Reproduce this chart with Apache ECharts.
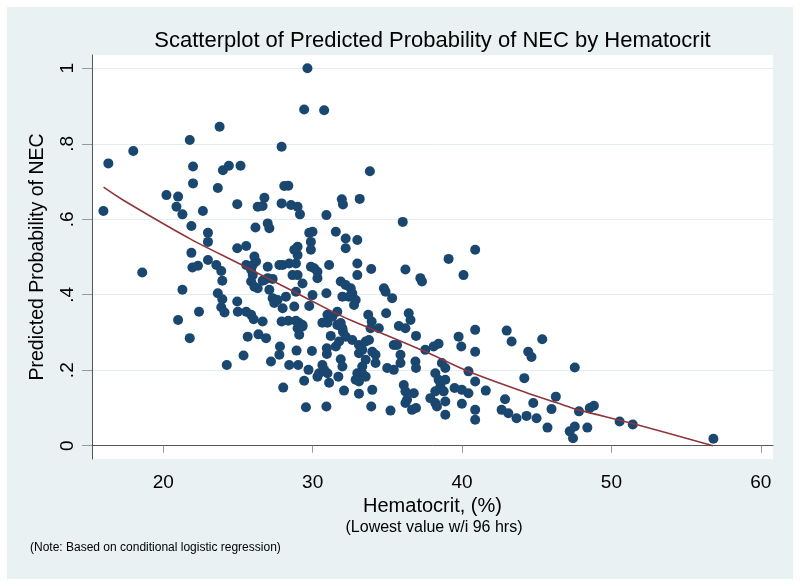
<!DOCTYPE html>
<html><head><meta charset="utf-8">
<script src="https://cdn.jsdelivr.net/npm/echarts@6/dist/echarts.min.js"></script>
<style>html,body{margin:0;padding:0;background:#fff}#c{width:800px;height:586px}</style>
</head><body><div id="c"></div>
<script>
// Observed points: [Hematocrit (%), Predicted probability of NEC]
const points = [
[15.99,0.622],[16.32,0.748],[17.99,0.781],[21.77,0.810],[21.99,0.740],[21.99,0.695],[20.21,0.664],[20.99,0.660],
[20.88,0.633],[21.28,0.613],[22.65,0.622],[21.88,0.582],[22.99,0.564],[23.77,0.845],[23.65,0.683],[23.99,0.730],
[24.39,0.742],[25.17,0.742],[24.95,0.640],[26.17,0.578],[26.99,0.589],[27.10,0.576],[26.32,0.633],[26.65,0.635],
[26.77,0.657],[27.92,0.792],[28.10,0.688],[28.37,0.689],[27.92,0.642],[28.55,0.638],[28.99,0.633],[29.15,0.613],
[29.65,1.000],[29.43,0.891],[30.77,0.889],[30.92,0.611],[29.77,0.564],[29.99,0.567],[31.55,0.567],[31.95,0.653],
[32.03,0.639],[32.21,0.549],
[33.83,0.727],[33.15,0.654],[36.03,0.593],[32.99,0.545],
[22.99,0.540],[21.88,0.511],[21.95,0.472],[22.32,0.477],[22.99,0.492],[23.55,0.479],[23.88,0.463],[23.95,0.437],
[18.59,0.459],[21.28,0.413],[20.99,0.333],[22.39,0.355],[21.77,0.285],[23.65,0.404],[23.95,0.388],[23.88,0.367],
[24.10,0.353],[24.25,0.214],[24.95,0.523],[25.55,0.529],[24.95,0.382],[24.99,0.355],[25.55,0.355],[25.88,0.347],
[26.05,0.335],[26.65,0.329],[25.65,0.289],[26.37,0.295],[26.88,0.285],[25.37,0.239],[27.21,0.223],[27.81,0.263],
[27.77,0.241],[28.03,0.154],[28.43,0.214],[29.03,0.214],[28.92,0.252],[29.43,0.172],[29.55,0.102],[30.92,0.104],
[29.95,0.251],[29.72,0.201],[30.32,0.183],[30.43,0.192],[30.77,0.201],[30.99,0.192],[31.10,0.167],[30.65,0.214],
[31.72,0.183],[32.10,0.146],[31.88,0.229],[31.99,0.210],[31.21,0.291],[31.55,0.263],[31.77,0.276],[30.95,0.258],
[30.95,0.243],[32.03,0.302],[32.21,0.289],[30.65,0.326],[30.99,0.326],[30.99,0.347],[31.32,0.342],[31.65,0.355],
[31.65,0.320],[31.88,0.325],[31.99,0.311],[30.92,0.404],[29.99,0.399],[29.77,0.370],[28.77,0.369],[27.92,0.329],
[28.37,0.331],[28.88,0.331],[29.10,0.325],[29.32,0.320],[28.99,0.311],[29.10,0.294],[29.32,0.316],[27.10,0.413],
[27.32,0.391],[27.43,0.378],[27.65,0.386],[27.99,0.364],[28.21,0.395],[28.88,0.408],[29.32,0.430],[26.65,0.437],
[26.77,0.439],[26.99,0.444],[27.32,0.442],[25.88,0.435],[26.10,0.421],[26.32,0.417],[25.99,0.452],[25.88,0.466],
[25.55,0.479],[25.99,0.479],[26.10,0.501],[26.21,0.488],[26.99,0.474],[27.77,0.479],[27.99,0.479],[28.43,0.483],
[28.88,0.483],[28.99,0.505],[28.99,0.527],[28.77,0.519],[28.65,0.452],[28.99,0.452],[29.88,0.540],[29.88,0.519],
[32.21,0.523],[29.88,0.474],[30.10,0.470],[30.32,0.461],[30.32,0.444],[31.10,0.479],[31.88,0.435],[32.21,0.426],
[31.99,0.395],
[32.99,0.483],[32.99,0.452],[33.92,0.468],[32.55,0.417],[32.65,0.404],[32.88,0.386],[32.77,0.373],[32.43,0.395],
[34.77,0.417],[34.88,0.408],[35.32,0.391],[36.21,0.467],[37.21,0.444],[37.32,0.435],[39.10,0.495],[40.10,0.452],
[40.88,0.519],[34.92,0.351],[33.72,0.347],[33.95,0.329],[33.88,0.311],[34.43,0.311],[32.65,0.280],[33.10,0.267],
[33.32,0.254],[33.55,0.276],[33.77,0.280],[33.10,0.245],[33.99,0.249],[34.21,0.241],[33.55,0.228],[34.21,0.219],
[33.32,0.210],[32.99,0.192],[33.32,0.192],[33.10,0.170],[33.55,0.183],[32.88,0.175],[33.10,0.138],[33.99,0.148],
[33.92,0.104],[35.21,0.093],[35.43,0.267],[35.65,0.267],[35.77,0.317],[36.21,0.311],[36.43,0.351],[36.55,0.333],
[35.88,0.241],[35.88,0.219],[34.99,0.206],[35.43,0.201],[36.92,0.291],[36.88,0.223],[36.92,0.206],[36.10,0.161],
[36.21,0.144],[36.77,0.139],[36.32,0.122],[36.21,0.113],[36.65,0.095],[36.92,0.100],[37.54,0.254],[38.10,0.263],
[38.43,0.270],[38.65,0.219],[38.88,0.206],[38.21,0.192],[38.43,0.175],[38.88,0.175],[38.55,0.157],[38.77,0.144],
[38.21,0.144],[37.88,0.126],[38.21,0.113],[38.88,0.117],[38.32,0.104],[38.88,0.082],[39.77,0.289],[39.95,0.263],
[39.50,0.153],[39.99,0.148],[40.43,0.139],[39.99,0.111],[40.43,0.197],[40.88,0.307],[40.88,0.249],[40.88,0.170],
[40.88,0.095],[40.88,0.069],[41.59,0.146],[42.88,0.123],[42.99,0.305],[43.32,0.276],[42.65,0.095],[43.10,0.086],
[43.65,0.073],[44.32,0.079],[44.99,0.073],[44.17,0.179],[44.43,0.249],[44.65,0.235],[44.77,0.113],[45.37,0.282],
[45.99,0.097],[46.28,0.130],[45.72,0.048],[47.55,0.207],[47.21,0.038],[47.43,0.020],[47.55,0.051],
[47.83,0.091],[48.55,0.100],[48.83,0.106],[48.39,0.048],[50.55,0.064],[51.43,0.056],[56.83,0.0185]
];
// Fitted curve
const fitHematocrit   = [16.0, 17.3, 21.8, 25.1, 28.4, 31.1, 32.4, 37.5, 40.4, 44.4, 46.4, 47.8, 51.3, 56.8];
const fitProbability  = [0.685,0.651,0.548,0.482,0.415,0.360,0.335,0.250,0.197,0.139,0.113,0.095,0.060,0.000];
const xTicks = [20, 30, 40, 50, 60];
const yTicks = [0, 0.2, 0.4, 0.6, 0.8, 1];
const yTickLabels = ['0', '.2', '.4', '.6', '.8', '1'];

const FONT = "'Liberation Sans', Arial, Helvetica, sans-serif";
const chart = echarts.init(document.getElementById('c'), null, {renderer: 'canvas'});
chart.setOption({
  animation: false,
  backgroundColor: '#ffffff',
  textStyle: {fontFamily: FONT},
  graphic: [
    {type: 'rect', z: -100, silent: true, shape: {x: 7, y: 7, width: 786, height: 572}, style: {fill: '#e9f1f3'}},
    {type: 'text', z: 10, silent: true, style: {text: 'Scatterplot of Predicted Probability of NEC by Hematocrit', x: 432.5, y: 41, textAlign: 'center', textVerticalAlign: 'middle', font: "22px " + FONT, fill: '#000'}},
    {type: 'text', z: 10, silent: true, style: {text: '(Lowest value w/i 96 hrs)', x: 434, y: 527.5, textAlign: 'center', textVerticalAlign: 'middle', font: "16px " + FONT, fill: '#000'}},
    {type: 'text', z: 10, silent: true, style: {text: '(Note: Based on conditional logistic regression)', x: 30, y: 548, textAlign: 'left', textVerticalAlign: 'middle', font: "12px " + FONT, fill: '#000'}}
  ],
  grid: {left: 92, top: 55, right: 27, bottom: 127, show: true, backgroundColor: '#ffffff', borderWidth: 0, containLabel: false},
  xAxis: {
    type: 'value', min: 15.226, max: 60.82,
    name: 'Hematocrit, (%)', nameLocation: 'middle', nameGap: 35,
    nameTextStyle: {fontSize: 20, color: '#000', fontFamily: FONT},
    axisLine: {show: true, lineStyle: {color: '#555', width: 1}},
    axisTick: {show: true, customValues: xTicks, length: 7, lineStyle: {color: '#999'}},
    axisLabel: {show: true, customValues: xTicks, fontSize: 19, color: '#000', margin: 14, fontFamily: FONT},
    splitLine: {show: false}
  },
  yAxis: {
    type: 'value', min: -0.0352, max: 1.0352,
    name: 'Predicted Probability of NEC', nameLocation: 'middle', nameRotate: 90, nameGap: 44,
    nameTextStyle: {fontSize: 19.5, color: '#000', fontFamily: FONT},
    axisLine: {show: true, lineStyle: {color: '#555', width: 1}},
    axisTick: {show: true, customValues: yTicks, length: 10, lineStyle: {color: '#999'}},
    axisLabel: {show: true, customValues: yTicks, rotate: 90, fontSize: 19, color: '#000', margin: 15, fontFamily: FONT,
      formatter: v => { const i = yTicks.findIndex(t => Math.abs(t - v) < 1e-9); return i >= 0 ? yTickLabels[i] : ''; }},
    splitLine: {show: true, lineStyle: {color: '#e4edf0', width: 1}}
  },
  series: [
    {type: 'scatter', data: points, symbol: 'circle', symbolSize: 10, itemStyle: {color: '#1a476f', opacity: 1}, z: 2, silent: true},
    {type: 'line', data: fitHematocrit.map((x, i) => [x, fitProbability[i]]), showSymbol: false, smooth: 0.3,
     lineStyle: {color: '#90353b', width: 1.6}, z: 3, silent: true}
  ]
});
</script></body></html>
